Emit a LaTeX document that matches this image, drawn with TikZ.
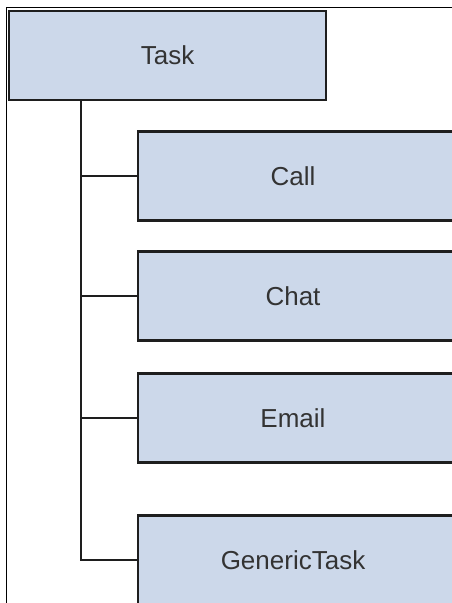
\documentclass[tikz,border=0pt]{standalone}
\usepackage{fontspec}
\setmainfont{Liberation Sans}
\usepackage{xcolor}

\definecolor{boxfill}{HTML}{CCD8EA}
\definecolor{boxline}{HTML}{1E1E1E}

\tikzset{
  classbox/.style={draw=boxline, line width=2.5pt, fill=boxfill, rectangle,
    minimum height=89pt, inner sep=0pt, text=black!80,
    font=\fontsize{26}{30}\selectfont},
  treeline/.style={draw=boxline, line width=2.5pt}
}

\begin{document}
\begin{tikzpicture}[x=1pt, y=-1pt]
  \useasboundingbox (0,0) rectangle (452,603);
  \clip (0,0) rectangle (452,603);

  % Outer frame
  \coordinate (F) at (6.5,7);
  \draw[line width=1pt] (F |- 0,603) -- (F) -- (460,7);

  % Define the boxes
  \node[classbox, minimum width=317pt] (task) at (167.5,55.5) {Task};
  \node[classbox, minimum width=320pt] (call) at (298,176) {\hspace*{-10pt}Call};
  \node[classbox, minimum width=320pt] (chat) at (298,296) {\hspace*{-10pt}Chat};
  \node[classbox, minimum width=320pt] (email) at (298,418) {\hspace*{-10pt}Email};
  \node[classbox, minimum width=320pt] (generic) at (298,560) {\hspace*{-10pt}GenericTask};

  % Draw the tree lines
  \coordinate (trunk) at (81,100);
  \draw[treeline] (trunk) |- (generic.west);
  \foreach \child in {call, chat, email}
    \draw[treeline] (trunk |- \child.west) -- (\child.west);
\end{tikzpicture}
\end{document}
